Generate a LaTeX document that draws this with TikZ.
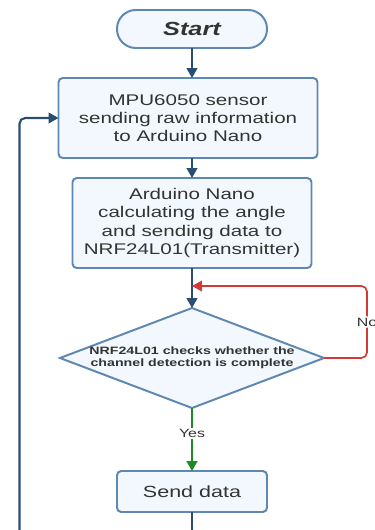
\documentclass[tikz,border=0pt]{standalone}
\usepackage{fontspec}
\setmainfont[FakeStretch=1.33]{Liberation Sans}
\usepackage{tikz}
\usetikzlibrary{shapes,arrows.meta,positioning,calc,shapes.geometric}

\definecolor{boxFill}{HTML}{F2F8FD}
\definecolor{boxLine}{HTML}{5F88B0}
\definecolor{flowBlue}{HTML}{2A4E72}
\definecolor{txtGray}{HTML}{333333}
\definecolor{noRed}{HTML}{D33A36}
\definecolor{yesGreen}{HTML}{1D8A22}

\begin{document}
\begin{tikzpicture}[every node/.style={text=txtGray, font=\fontsize{11}{13}\selectfont},
    process/.style={draw=boxLine, line width=1.4pt, fill=boxFill, rounded corners=3pt, align=center, inner sep=0pt, outer sep=0pt},
    terminal/.style={process, rounded corners=0.47cm, minimum width=3.75cm, minimum height=0.95cm, font=\fontsize{13.5}{16}\selectfont\bfseries\itshape},
    decision/.style={diamond, draw=boxLine, line width=1.4pt, fill=boxFill, inner sep=0pt, outer sep=0pt, minimum width=6.6cm, minimum height=2.5cm},
    flow/.style={draw=flowBlue, line width=1.5pt, -{Triangle[width=7.5pt,length=7pt]}},
    noflow/.style={draw=noRed, line width=1.2pt, rounded corners=4pt, -{Triangle[width=7.5pt,length=7pt]}},
    yesflow/.style={draw=yesGreen, line width=1.5pt, -{Triangle[width=7.5pt,length=7pt]}},
    branch/.style={fill=white, inner sep=1pt, font=\fontsize{8.5}{10}\selectfont}]
        \useasboundingbox (0,0) rectangle (9.35,-13.25);

        % Define nodes
        \node[terminal] (start) at (4.8,-0.725) {Start};
        \node[process, minimum width=6.475cm, minimum height=2cm, below=0.75cm of start, xshift=-0.1cm] (mpu) {MPU6050 sensor\\sending raw information\\to Arduino Nano};
        \node[process, minimum width=5.975cm, minimum height=2.25cm, below=0.5cm of start.south |- mpu.south] (arduino) {Arduino Nano\\calculating the angle\\and sending data to\\NRF24L01(Transmitter)};
        \node[decision, below=1cm of arduino, label={[font=\fontsize{7.6}{8.6}\selectfont\bfseries, align=center]center:NRF24L01 checks whether the\\channel detection is complete}] (check) {};
        \node[process, minimum width=3.75cm, minimum height=1.025cm, font=\fontsize{11.5}{13}\selectfont, below=1.575cm of check] (send) {Send data};

        % Free ends of the loops
        \coordinate (noTurn) at ($(check.east)+(1.075cm,0)$);
        \coordinate (loopIn) at ($(arduino.south)!0.45!(check.north)$);
        \coordinate (loopStart) at (0.4875,-13.6);

        % Draw arrows
        \draw[flow] (start) -- (start |- mpu.north);
        \draw[flow] (start |- mpu.south) -- (arduino);
        \draw[flow] (arduino) -- (check);
        \draw[noflow] (check.east) -| node[branch, pos=0.75] (noLabel) {No} (noTurn |- loopIn) -- (loopIn);
        \draw[yesflow] (check) -- node[branch, pos=0.4] (yesLabel) {Yes} (send);
        \draw[draw=flowBlue, line width=1.5pt] (send) -- (send.south |- loopStart);
        \draw[flow, rounded corners=4pt] (loopStart) |- (mpu.west);

    \end{tikzpicture}
\end{document}
